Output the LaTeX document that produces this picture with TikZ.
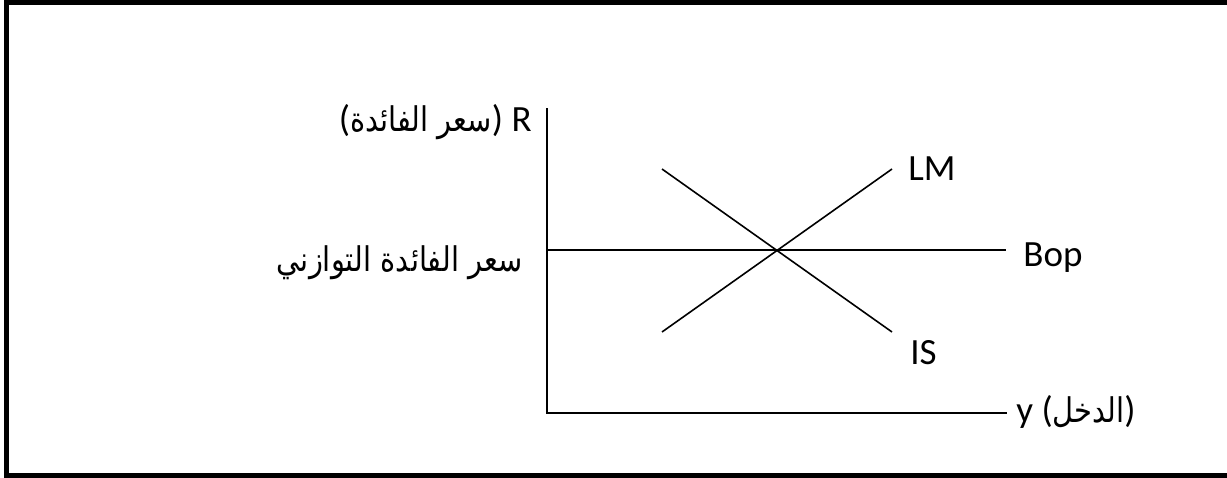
\documentclass[tikz,border=0pt]{standalone}
\usepackage{fontspec}
\setmainfont{Carlito}
\newfontfamily\arabicfont[Script=Arabic, FakeStretch=0.85]{DejaVu Sans}
\TeXXeTstate=1

\begin{document}
\begin{tikzpicture}[
        x=0.5pt, y=-0.5pt,
        frame/.style={line width=2.5pt},
        axis/.style={line width=1pt},
        curve/.style={line width=0.8pt},
        label/.style={inner sep=0pt, font=\fontsize{18.5}{22}\selectfont},
        arlabel/.style={inner sep=0pt, font=\fontsize{17}{22}\arabicfont}
    ]
    \useasboundingbox (0,0) rectangle (1227,477);
    \begin{scope}
        \clip (0,0) rectangle (1227,477);
        \draw[frame] (6.5,2.5) rectangle (1240,475.5);
    \end{scope}

    % axes
    \coordinate (ytop) at (547,108);
    \coordinate (origin) at (547,413);
    \coordinate (xend) at (1007,413);
    \draw[axis] (ytop) -- (origin) -- (xend);

    % curves
    \coordinate (bopstart) at (547,250);
    \coordinate (bopend) at (1006,250);
    \coordinate (lmstart) at (662,332);
    \coordinate (lmend) at (892,169);
    \coordinate (isstart) at (662,169);
    \coordinate (isend) at (892,332);
    \draw[curve] (bopstart) -- (bopend);
    \draw[curve] (lmstart) -- (lmend);
    \draw[curve] (isstart) -- (isend);

    \node[label, anchor=base east] (rlabel) at (532,131) {({\fontsize{17}{22}\arabicfont\beginR سعر الفائدة\endR}) R};
    \node[arlabel, anchor=base east] (eqrate) at (523,271) {\beginR سعر الفائدة التوازني\endR};
    \node[label, anchor=base west] (lm) at (908,180) {LM};
    \node[label, anchor=base west] (bop) at (1023,266) {Bop};
    \node[label, anchor=base west] (is) at (910,364) {IS};
    \node[label, anchor=base west] (ylabel) at (1016,422) {y ({\fontsize{17}{22}\arabicfont\beginR الدخل\endR})};
\end{tikzpicture}
\end{document}
